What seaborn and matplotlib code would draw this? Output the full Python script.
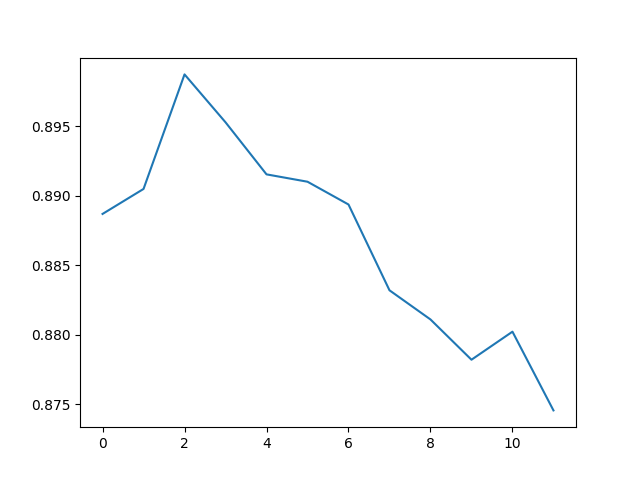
import matplotlib
matplotlib.use("Agg")
import matplotlib.pyplot as plt
import seaborn as sns

steps = list(range(12))
scores = [0.88870, 0.89050, 0.89875, 0.89530, 0.89155, 0.89102, 0.88938,
          0.88320, 0.88110, 0.87820, 0.88022, 0.87455]

fig, ax = plt.subplots(figsize=(6.4, 4.8), dpi=100)
sns.lineplot(x=steps, y=scores, ax=ax)

plt.savefig("out.png")
